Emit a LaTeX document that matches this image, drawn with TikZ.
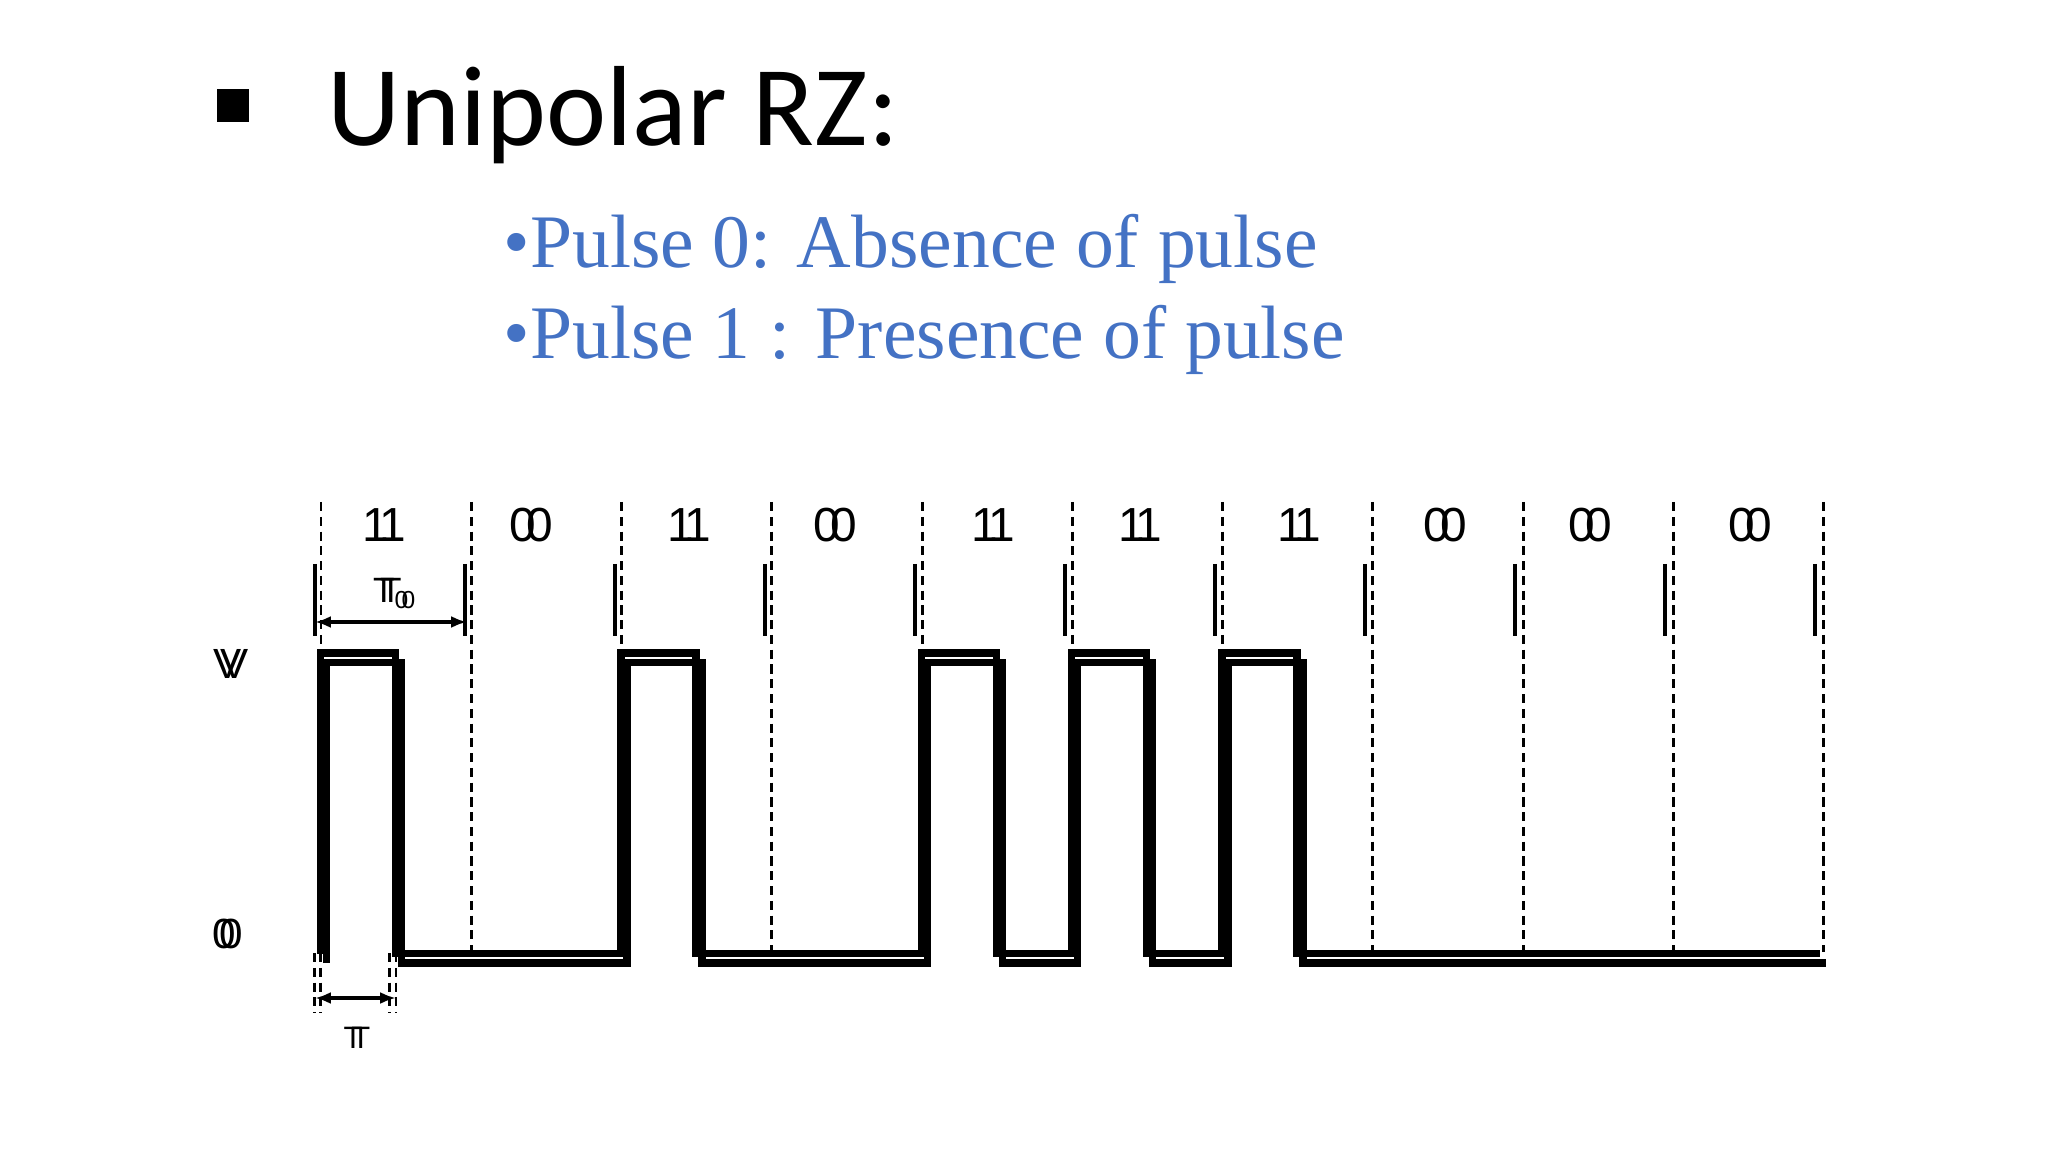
\documentclass[tikz,border=0pt]{standalone}
\usepackage{fontspec}
\setmainfont{Liberation Sans}
\newfontfamily\titlefont{Carlito}
\newfontfamily\notefont{Liberation Serif}
\usetikzlibrary{arrows.meta}
\definecolor{slideblue}{RGB}{68,114,196}
% print a label twice, slightly shifted (the blurred double print of the slide)
\newcommand{\twice}[2]{\rlap{#2}\kern#1\relax#2}

\tikzset{
  bitlabel/.style={anchor=base, inner sep=0pt, font=\fontsize{13.6}{16}\selectfont},
  levellabel/.style={anchor=base, inner sep=0pt, font=\fontsize{12}{14}\selectfont},
  gridline/.style={dash pattern=on 2.6pt off 1.6pt, line width=0.85pt},
  wave/.style={line width=2.1pt},
  bitbar/.style={line width=1pt},
  dimline/.style={line width=0.9pt, {Latex[length=4.5pt,width=3.4pt]}-{Latex[length=4.5pt,width=3.4pt]}},
}

\begin{document}
\begin{tikzpicture}[x=0.01cm, y=-0.01cm]
    \useasboundingbox (0,0) rectangle (2048,1152);

    % heading and the two rules
    \fill (217,89) rectangle (249,122);
    \node[anchor=base west, inner sep=0pt, font=\titlefont\fontsize{32.4}{38}\selectfont] (title) at (327,146) {Unipolar RZ:};
    \node[anchor=base west, inner sep=0pt, text=slideblue, font=\notefont\fontsize{21.5}{26}\selectfont] (rule0) at (503,268) {•Pulse 0: Absence of pulse};
    \node[anchor=base west, inner sep=0pt, text=slideblue, font=\notefont\fontsize{21.5}{26}\selectfont] (rule1) at (503,359) {•Pulse 1 : Presence of pulse};

    % bit slots
    \foreach \k in {0,...,10} {
      \draw[gridline] (321+150.25*\k,502) -- (321+150.25*\k,952);
      \draw[bitbar] (315+150*\k,564) -- (315+150*\k,636);
    }

    \node[bitlabel] (b0) at (384,542)  {\twice{0.35em}{1}};
    \node[bitlabel] (b1) at (531,542)  {\twice{0.35em}{0}};
    \node[bitlabel] (b2) at (689,542)  {\twice{0.35em}{1}};
    \node[bitlabel] (b3) at (835,542)  {\twice{0.35em}{0}};
    \node[bitlabel] (b4) at (993,542)  {\twice{0.35em}{1}};
    \node[bitlabel] (b5) at (1140,542) {\twice{0.35em}{1}};
    \node[bitlabel] (b6) at (1299,542) {\twice{0.35em}{1}};
    \node[bitlabel] (b7) at (1445,542) {\twice{0.35em}{0}};
    \node[bitlabel] (b8) at (1590,542) {\twice{0.35em}{0}};
    \node[bitlabel] (b9) at (1750,542) {\twice{0.35em}{0}};

    % levels
    \node[levellabel] (high) at (231,678) {\twice{0.15em}{V}};
    \node[levellabel] (low)  at (228,948) {\twice{0.17em}{0}};

    % waveform, printed twice
    \foreach \dx/\dy in {0/0, 6/9.5}
      \draw[wave, shift={(\dx,\dy)}] (320.5,953.5) -- (320.5,653) -- (395.5,653) -- (395.5,953.5)
        -- (621,953.5) -- (621,653) -- (696,653) -- (696,953.5)
        -- (921.5,953.5) -- (921.5,653) -- (996.5,653) -- (996.5,953.5)
        -- (1071.75,953.5) -- (1071.75,653) -- (1146.75,653) -- (1146.75,953.5)
        -- (1222,953.5) -- (1222,653) -- (1297,653) -- (1297,953.5)
        -- (1820,953.5);

    % bit period
    \coordinate (tb-start) at (315,622);
    \coordinate (tb-end)   at (467,622);
    \draw[dimline] (tb-start) -- (tb-end);
    \node[anchor=base, inner sep=0pt, font=\fontsize{10}{12}\selectfont] (tb) at (395,603) {\twice{0.2em}{T\textsubscript{0}}};

    % pulse width
    \foreach \x in {314.5,320.5,389.5,396}
      \draw[gridline] (\x,953) -- (\x,1013);
    \coordinate (t-start) at (315,998);
    \coordinate (t-end)   at (396,998);
    \draw[dimline] (t-start) -- (t-end);
    \node[anchor=base, inner sep=0pt, font=\fontsize{8.8}{11}\selectfont] (tw) at (357,1048) {\twice{0.25em}{T}};
\end{tikzpicture}
\end{document}
